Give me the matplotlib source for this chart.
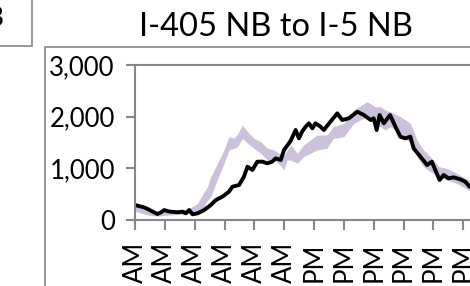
import matplotlib
matplotlib.use("Agg")
import matplotlib.pyplot as plt
from matplotlib.patches import Rectangle
from matplotlib.ticker import FuncFormatter

# ---- data ----
title = "I-405 NB to I-5 NB"
panel_letter = "B"

obs_hours = [0.0, 0.6, 0.85, 1.2, 1.5, 1.75, 1.96, 2.2, 2.4, 2.86, 3.2, 3.4, 3.63, 3.86,
             4.19, 4.64, 5.08, 5.42, 5.86, 6.3, 6.53, 6.98, 7.3, 7.54, 7.87, 8.2, 8.54,
             8.87, 9.2, 9.43, 9.77, 9.99, 10.43, 10.77, 10.99, 11.2, 11.44, 11.66, 11.89,
             12.1, 12.44, 12.66, 13.1, 13.56, 13.89, 14.33, 14.9, 15.34, 15.8, 16.0, 16.2,
             16.4, 16.68, 17.1, 17.46, 17.79, 18.13, 18.46, 18.68, 19.13, 19.58, 19.9,
             20.13, 20.42, 20.69, 21.02, 21.36, 21.8, 22.14, 22.43, 23.0]
obs_volume = [290, 245, 213, 160, 116, 150, 193, 170, 161, 149, 161, 129, 193, 110,
              129, 193, 290, 387, 451, 548, 645, 677, 838, 1032, 968, 1129, 1129,
              1097, 1129, 1193, 1161, 1355, 1530, 1742, 1580, 1709, 1806, 1871, 1774,
              1871, 1806, 1742, 1903, 2064, 1935, 1968, 2096, 2032, 1935, 1968, 1742,
              2032, 1871, 2032, 1806, 1613, 1580, 1613, 1387, 1226, 1064, 1129,
              968, 774, 871, 806, 826, 787, 742, 645, 560]

band_hours = [0.0, 0.5, 0.85, 1.5, 2.4, 3.5, 4.2, 4.5, 4.86, 5.08, 5.42, 5.97, 6.3, 6.64,
              6.87, 7.2, 7.54, 7.98, 8.43, 8.87, 9.32, 9.6, 9.99, 10.2, 10.43, 10.88,
              11.3, 12.2, 12.87, 13.3, 14.0, 14.67, 15.56, 16.1, 16.45, 16.77, 17.1,
              17.8, 18.46, 18.9, 19.35, 19.8, 20.36, 20.9, 21.57, 22.35, 23.0]
band_low = [170, 130, 97, 77, 97, 116, 161, 193, 387, 451, 709, 1097, 1355, 1387,
            1420, 1580, 1484, 1387, 1290, 1161, 1161, 1100, 968, 1161, 1161, 1097,
            1226, 1355, 1387, 1580, 1613, 1871, 2000, 1838, 1806, 1742, 1806,
            1677, 1484, 1226, 1032, 935, 838, 774, 710, 580, 500]
band_high = [290, 240, 193, 161, 190, 200, 322, 484, 645, 838, 1032, 1355, 1613, 1580,
             1660, 1838, 1709, 1580, 1516, 1387, 1355, 1300, 1250, 1355, 1450, 1290,
             1451, 1645, 1645, 1806, 1871, 2129, 2290, 2193, 2193, 2129, 2096,
             2000, 1871, 1548, 1355, 1226, 1032, 1000, 903, 774, 700]

x_ticks = [0, 2, 4, 6, 8, 10, 12, 14, 16, 18, 20, 22]
x_tick_labels = ["AM", "AM", "AM", "AM", "AM", "AM",
                 "PM", "PM", "PM", "PM", "PM", "PM"]
y_ticks = [0, 1000, 2000, 3000]

# ---- figure ----
W, H = 470, 286
fig = plt.figure(figsize=(W / 100, H / 100), dpi=100)
plt.rcParams['font.family'] = ['Lato', 'DejaVu Sans']

def fx(px):
    return px / W

def fy(py):
    return 1 - py / H

gray = "#868686"

# panel-letter box (cropped at top-left)
fig.add_artist(Rectangle((fx(-40), fy(46)), fx(72), fy(-40) - fy(46),
                         transform=fig.transFigure, fill=False, edgecolor=gray, lw=1.2))
fig.text(fx(4), fy(26), panel_letter, ha="right", va="baseline", fontsize=19,
         color="black")

# chart outer border (cropped)
fig.add_artist(Rectangle((fx(45), fy(340)), fx(600), fy(47) - fy(340),
                         transform=fig.transFigure, fill=False, edgecolor=gray, lw=1.2))

ax = fig.add_axes([fx(135), fy(220), fx(493) - fx(135), fy(65) - fy(220)])
ax.fill_between(band_hours, band_low, band_high, color="#CCC1DA", lw=0)
ax.plot(obs_hours, obs_volume, color="black", lw=2.8, solid_joinstyle="round")

ax.set_xlim(0, 24)
ax.set_ylim(0, 3000)
ax.set_xticks(x_ticks)
ax.set_xticklabels(x_tick_labels, rotation=90)
ax.set_yticks(y_ticks)
ax.yaxis.set_major_formatter(FuncFormatter(lambda v, p: f"{int(v):,}"))

for s in ax.spines.values():
    s.set_color(gray)
    s.set_linewidth(1.5)
ax.tick_params(axis="both", colors=gray, labelcolor="black", width=1.5, labelsize=18.5)
ax.tick_params(axis="x", length=7, pad=9)
ax.tick_params(axis="y", length=6.5, pad=8)

fig.text(fx(276), fy(36), title, ha="center", va="baseline", fontsize=23.5, color="black")

fig.savefig("out.png", dpi=100)
